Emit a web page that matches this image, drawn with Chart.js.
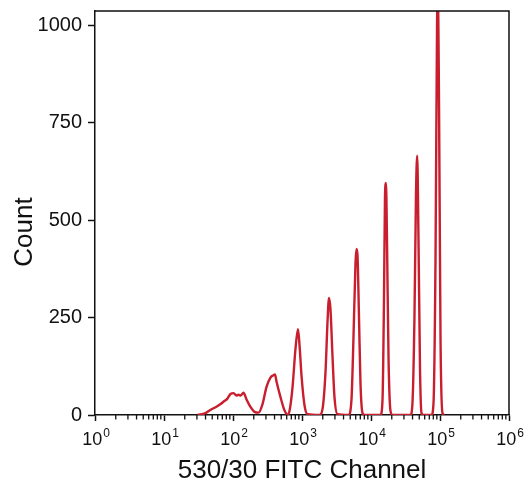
<!DOCTYPE html>
<html>
<head>
<meta charset="utf-8">
<script src="https://cdn.jsdelivr.net/npm/chart.js@4.4.1/dist/chart.umd.min.js"></script>
<style>
  html, body { margin: 0; padding: 0; background: #ffffff; }
  #wrap { width: 525px; height: 484px; }
</style>
</head>
<body>
<div id="wrap"><canvas id="c" width="525" height="484"></canvas></div>
<script>
// FITC channel intensity (x) and event counts (y)
const fitcChannel = [
  30.6, 40, 47, 56, 66, 75, 83, 92, 102, 112, 120, 129, 142, 157, 179, 205, 234,
  268, 306, 349, 386, 406, 427, 488, 557, 616, 659, 728, 805, 875, 920, 985, 1087, 1202,
  1795, 1982, 2191, 2344, 2463, 2589, 2768, 2958, 3268,
  4723, 5216, 5576, 5962, 6166, 6373, 6700, 7045, 7533, 8053,
  13730, 14690, 15430, 15950, 16490, 17050, 17930, 19180, 20510,
  37300, 39880, 42640, 44830, 46720, 48790, 51300, 53950, 57690,
  75300, 80500, 86100, 90600, 93000, 96800, 101700, 108700, 116200
];
const counts = [
  0, 5, 13, 20, 28, 36, 42, 54, 56, 50, 52, 50, 57, 40, 21, 8, 6,
  28, 72, 96, 102, 104, 86, 46, 12, 1, 10, 70, 170, 220, 180, 100, 25, 2,
  0, 15, 110, 240, 300, 270, 150, 45, 2,
  0, 40, 200, 390, 426, 410, 250, 80, 5, 0,
  0, 40, 300, 560, 595, 450, 150, 10, 0,
  0, 30, 250, 560, 665, 450, 120, 5, 0,
  0, 30, 400, 1000, 1080, 800, 200, 5, 0
];
const xMajorTicks = [1, 10, 100, 1000, 10000, 100000, 1000000];
const xTickBase = '10';
const xTickExponents = ['0', '1', '2', '3', '4', '5', '6'];
const yTicks = [0, 250, 500, 750, 1000];
const yTickLabels = ['0', '250', '500', '750', '1000'];
const xTitle = '530/30 FITC Channel';
const yTitle = 'Count';

const FONT = "'Liberation Sans', Arial, Helvetica, sans-serif";
const INK = '#111111';

const framePlugin = {
  id: 'frame',
  afterDraw(chart) {
    const ctx = chart.ctx;
    const a = chart.chartArea;
    const xs = chart.scales.x;
    ctx.save();
    ctx.strokeStyle = INK;
    ctx.lineWidth = 1.5;
    // top and right border
    ctx.beginPath();
    ctx.moveTo(a.left, a.top);
    ctx.lineTo(a.right, a.top);
    ctx.lineTo(a.right, a.bottom);
    ctx.stroke();
    // minor log ticks
    ctx.lineWidth = 1.3;
    ctx.beginPath();
    for (let d = 0; d < 6; d++) {
      for (let m = 2; m <= 9; m++) {
        const px = xs.getPixelForValue(m * Math.pow(10, d));
        ctx.moveTo(px, a.bottom);
        ctx.lineTo(px, a.bottom + 4.5);
      }
    }
    ctx.stroke();
    // x tick labels: 10 with superscript exponent
    ctx.fillStyle = INK;
    ctx.textBaseline = 'alphabetic';
    ctx.textAlign = 'left';
    const baseFont = '18px ' + FONT;
    const expFont = '12px ' + FONT;
    xMajorTicks.forEach((v, i) => {
      const px = xs.getPixelForValue(v);
      ctx.font = baseFont;
      const w1 = ctx.measureText(xTickBase).width;
      ctx.font = expFont;
      const w2 = ctx.measureText(xTickExponents[i]).width;
      const x0 = px - (w1 + w2 + 1) / 2 + 1;
      ctx.font = baseFont;
      ctx.fillText(xTickBase, x0, a.bottom + 30);
      ctx.font = expFont;
      ctx.fillText(xTickExponents[i], x0 + w1 + 1, a.bottom + 22);
    });
    // y title
    ctx.font = '26px ' + FONT;
    ctx.textAlign = 'center';
    ctx.textBaseline = 'middle';
    ctx.translate(25, 232);
    ctx.rotate(-Math.PI / 2);
    ctx.fillText(yTitle, 0, 0);
    ctx.restore();
  }
};

new Chart(document.getElementById('c'), {
  type: 'line',
  data: {
    datasets: [{
      data: fitcChannel.map((v, i) => ({ x: v, y: counts[i] })),
      borderColor: '#c81e2e',
      borderWidth: 2.4,
      pointRadius: 0,
      fill: false,
      cubicInterpolationMode: 'monotone',
      clip: 0
    }]
  },
  options: {
    responsive: false,
    animation: false,
    layout: { padding: { top: 11, right: 16, left: 0, bottom: 0 } },
    plugins: { legend: { display: false }, tooltip: { enabled: false } },
    scales: {
      x: {
        type: 'logarithmic',
        min: 1,
        max: 1000000,
        afterBuildTicks(scale) { scale.ticks = xMajorTicks.map(v => ({ value: v, major: true })); },
        afterFit(scale) { scale.height = 69; scale.paddingLeft = 0; scale.paddingRight = 0; },
        ticks: { display: false, autoSkip: false, maxRotation: 0 },
        grid: { display: true, drawOnChartArea: false, drawTicks: true, tickLength: 6, tickWidth: 1.5, tickColor: INK },
        border: { display: true, color: INK, width: 1.5 },
        title: {
          display: true,
          text: xTitle,
          color: INK,
          font: { family: FONT, size: 26, lineHeight: 1 },
          padding: { top: 0, bottom: 0 }
        }
      },
      y: {
        type: 'linear',
        min: 0,
        max: 1036,
        afterBuildTicks(scale) { scale.ticks = yTicks.map(v => ({ value: v })); },
        afterFit(scale) { scale.width = 95; scale.paddingTop = 0; scale.paddingBottom = 0; },
        ticks: {
          padding: 6,
          color: INK,
          font: { family: FONT, size: 20 },
          callback(value) {
            const i = yTicks.indexOf(value);
            return i >= 0 ? yTickLabels[i] : '';
          }
        },
        grid: { display: true, drawOnChartArea: false, drawTicks: true, tickLength: 7, tickWidth: 1.5, tickColor: INK },
        border: { display: true, color: INK, width: 1.5 },
        title: { display: false }
      }
    }
  },
  plugins: [framePlugin]
});
</script>
</body>
</html>
